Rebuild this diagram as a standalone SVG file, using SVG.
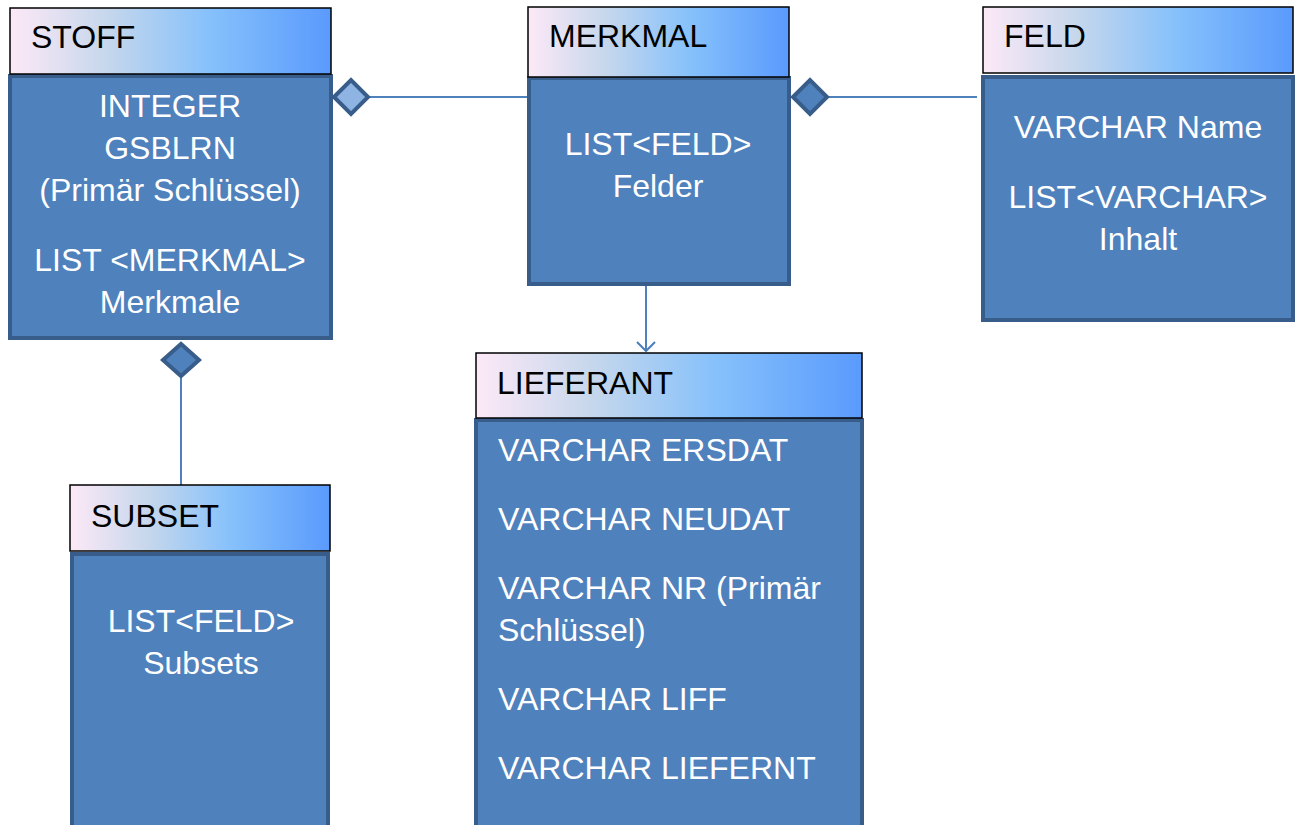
<svg xmlns="http://www.w3.org/2000/svg" width="1298" height="825" viewBox="0 0 1298 825">
<defs>
<linearGradient id="hdr" x1="0" y1="0" x2="1" y2="0">
<stop offset="0" stop-color="#FDE9F7"/>
<stop offset="0.3" stop-color="#C6D7EC"/>
<stop offset="0.62" stop-color="#86C1FB"/>
<stop offset="1" stop-color="#5A9AFD"/>
</linearGradient>
<marker id="arr" markerWidth="24" markerHeight="24" refX="10" refY="10" orient="auto" markerUnits="userSpaceOnUse">
<path d="M1,1 L10,10 L1,19" fill="none" stroke="#4A7EBB" stroke-width="2"/>
</marker>
</defs>
<style>
.hdr{fill:url(#hdr);stroke:#000;stroke-width:1.5}
.body{fill:#4F81BD;stroke:#385D8A;stroke-width:4}
.ht{font-family:"Liberation Sans",Arial,sans-serif;font-size:32px;fill:#000}
.bt{font-family:"Liberation Sans",Arial,sans-serif;font-size:32px;fill:#fff}
.c{text-anchor:middle}
.ln{stroke:#4F81BD;stroke-width:2;fill:none}
.dia{stroke:#385D8A;stroke-width:4}
</style>
<g id="connectors">
<line class="ln" x1="368" y1="97" x2="528" y2="97"/>
<line class="ln" x1="828" y1="97" x2="977" y2="97"/>
<line class="ln" x1="181" y1="362" x2="181" y2="485" stroke="#558ED5"/>
<line class="ln" x1="646" y1="286" x2="646" y2="351" marker-end="url(#arr)"/>
</g>
<g id="STOFF">
<rect class="body" x="10" y="76" width="321" height="262"/>
<rect class="hdr" x="10" y="8" width="321" height="66"/>
<text class="ht" x="31" y="48">STOFF</text>
<text class="bt c" x="170" y="117">INTEGER</text>
<text class="bt c" x="170" y="159">GSBLRN</text>
<text class="bt c" x="170" y="201">(Primär Schlüssel)</text>
<text class="bt c" x="170" y="271">LIST &lt;MERKMAL&gt;</text>
<text class="bt c" x="170" y="313">Merkmale</text>
</g>
<g id="MERKMAL">
<rect class="body" x="529" y="78" width="260" height="206"/>
<rect class="hdr" x="528" y="7" width="261" height="70"/>
<text class="ht" x="549" y="47">MERKMAL</text>
<text class="bt c" x="658" y="155">LIST&lt;FELD&gt;</text>
<text class="bt c" x="658" y="197">Felder</text>
</g>
<g id="FELD">
<rect class="body" x="983" y="77" width="310" height="243"/>
<rect class="hdr" x="983" y="7" width="310" height="66"/>
<text class="ht" x="1004" y="47">FELD</text>
<text class="bt c" x="1138" y="138">VARCHAR Name</text>
<text class="bt c" x="1138" y="208">LIST&lt;VARCHAR&gt;</text>
<text class="bt c" x="1138" y="250">Inhalt</text>
</g>
<g id="SUBSET">
<rect class="body" x="72" y="554" width="256" height="290"/>
<rect class="hdr" x="70" y="485" width="260" height="66"/>
<text class="ht" x="91" y="527">SUBSET</text>
<text class="bt c" x="201" y="632">LIST&lt;FELD&gt;</text>
<text class="bt c" x="201" y="674">Subsets</text>
</g>
<g id="LIEFERANT">
<rect class="body" x="476" y="420" width="386" height="420"/>
<rect class="hdr" x="476" y="353" width="386" height="65"/>
<text class="ht" x="497" y="394">LIEFERANT</text>
<text class="bt" x="498" y="461">VARCHAR ERSDAT</text>
<text class="bt" x="498" y="530">VARCHAR NEUDAT</text>
<text class="bt" x="498" y="599">VARCHAR NR (Primär</text>
<text class="bt" x="498" y="641">Schlüssel)</text>
<text class="bt" x="498" y="710">VARCHAR LIFF</text>
<text class="bt" x="498" y="779">VARCHAR LIEFERNT</text>
</g>
<g id="diamonds">
<polygon class="dia" fill="#8EB4E3" points="334,97 351,80 368,97 351,114"/>
<polygon class="dia" fill="#4F81BD" points="793,97 810,80 827,97 810,114"/>
<polygon class="dia" fill="#4F81BD" points="163,360 181,344 199,360 181,376"/>
</g>
</svg>
